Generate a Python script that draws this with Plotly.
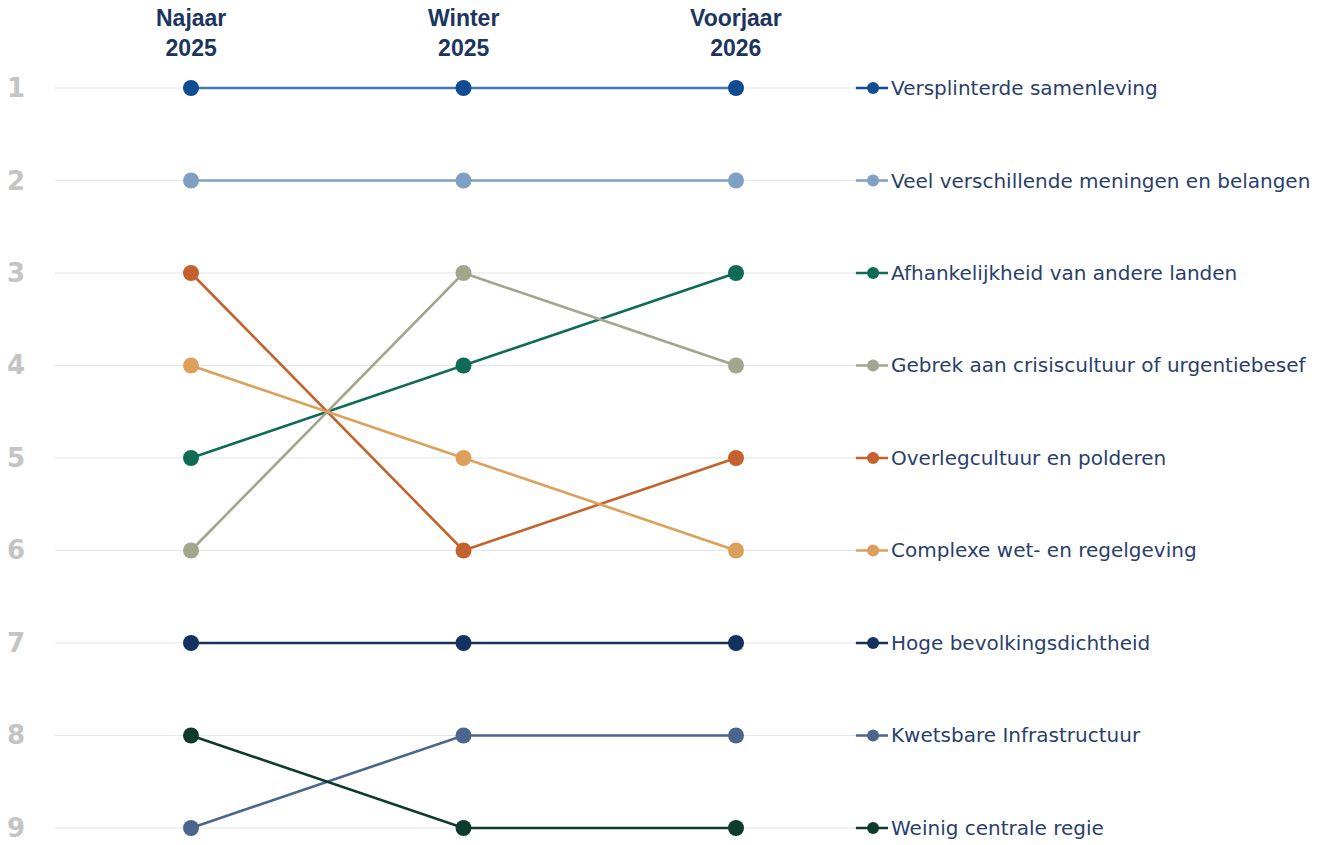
import plotly.graph_objects as go

# Periods (columns) and the rank of each item per period
periods = ["Najaar<br>2025", "Winter<br>2025", "Voorjaar<br>2026"]
ranks = [1, 2, 3, 4, 5, 6, 7, 8, 9]

items = [
    "Versplinterde samenleving",
    "Veel verschillende meningen en belangen",
    "Afhankelijkheid van andere landen",
    "Gebrek aan crisiscultuur of urgentiebesef",
    "Overlegcultuur en polderen",
    "Complexe wet- en regelgeving",
    "Hoge bevolkingsdichtheid",
    "Kwetsbare Infrastructuur",
    "Weinig centrale regie",
]

versplinterde = [1, 1, 1]
meningen = [2, 2, 2]
afhankelijkheid = [5, 4, 3]
crisiscultuur = [6, 3, 4]
overlegcultuur = [3, 6, 5]
regelgeving = [4, 5, 6]
bevolkingsdichtheid = [7, 7, 7]
infrastructuur = [9, 8, 8]
centrale_regie = [8, 9, 9]

series = [versplinterde, meningen, afhankelijkheid, crisiscultuur, overlegcultuur,
          regelgeving, bevolkingsdichtheid, infrastructuur, centrale_regie]

marker_colors = ["#0f4c91", "#7f9fc5", "#0f6b55", "#a3a68c", "#c4622d",
                 "#dda05a", "#14325f", "#4a668c", "#0d3b2e"]
line_colors = ["#4677b5", "#7f9fc5", "#0f6b55", "#a3a68c", "#c4622d",
               "#dda05a", "#14325f", "#4a668c", "#0d3b2e"]

xpos = [0, 1, 2]

fig = go.Figure()

# light horizontal guide per rank
for r in ranks:
    fig.add_shape(type="line", x0=-0.5, x1=2.44, y0=r, y1=r,
                  line=dict(color="#e6e6e6", width=1.2), layer="below")

for name, vals, mcol, lcol in zip(items, series, marker_colors, line_colors):
    fig.add_trace(go.Scatter(
        x=xpos, y=vals, mode="lines+markers", name=name,
        line=dict(color=lcol, width=2.6),
        marker=dict(color=mcol, size=16),
        showlegend=False, hoverinfo="name+y",
    ))
    # inline legend key at the final rank
    last = vals[-1]
    fig.add_trace(go.Scatter(
        x=[2.44, 2.503, 2.558], y=[last, last, last], mode="lines",
        line=dict(color=mcol, width=2.4), showlegend=False, hoverinfo="skip",
    ))
    fig.add_trace(go.Scatter(
        x=[2.503], y=[last], mode="markers",
        marker=dict(color=mcol, size=12), showlegend=False, hoverinfo="skip",
    ))
    fig.add_annotation(x=2.562, y=last, text=name, showarrow=False,
                       xanchor="left", yanchor="middle",
                       font=dict(family="DejaVu Sans", size=20, color="#2a3f6c"))

# rank numbers on the left
for r in ranks:
    fig.add_annotation(x=-0.642, y=r, text=str(r), showarrow=False,
                       xanchor="center", yanchor="middle",
                       font=dict(family="DejaVu Sans", size=26, color="#c4c4c4",
                                 weight="bold"))

# period headers above the columns
for xp, label in zip(xpos, periods):
    fig.add_annotation(x=xp, y=0.405, text=label, showarrow=False,
                       xanchor="center", yanchor="middle",
                       font=dict(family="Liberation Sans", size=23, color="#1c355f",
                                 weight="bold"))

fig.update_layout(
    width=1336, height=845,
    margin=dict(l=0, r=0, t=0, b=0),
    paper_bgcolor="white", plot_bgcolor="white",
    xaxis=dict(range=[-0.7009, 4.2018], visible=False, fixedrange=True),
    yaxis=dict(range=[9.184, 0.0486], visible=False, fixedrange=True),
)

fig.write_html("out.html")
